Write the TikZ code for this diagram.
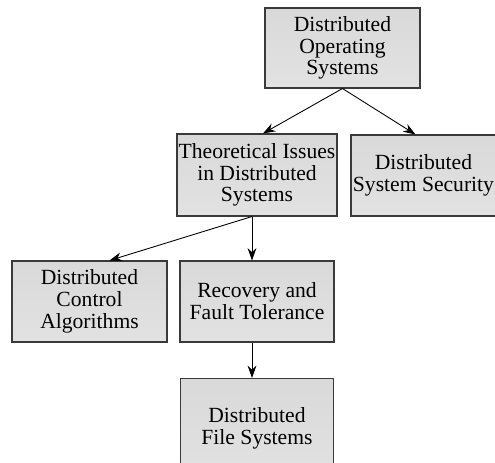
\documentclass[tikz,border=0pt]{standalone}
\usepackage{fontspec}
\setmainfont{Liberation Serif}
\usepackage{tikz}
\usetikzlibrary{arrows.meta,calc}
\definecolor{edge}{HTML}{3A3A3A}
\definecolor{shadetop}{HTML}{D9D9D9}
\definecolor{shademid}{HTML}{FAFAFA}
\definecolor{shadebot}{HTML}{E2E2E2}

\begin{document}
\begin{tikzpicture}[x=0.02cm, y=-0.02cm,
    topic/.style={draw=edge, line width=0.6pt, top color=shadetop,
      middle color=shademid, bottom color=shadebot, align=center,
      inner sep=0pt, font=\fontsize{12.3}{12.4}\selectfont},
    link/.style={-{Stealth[length=7pt,width=5pt]}, line width=0.5pt, black}]
  \useasboundingbox (0,0) rectangle (495,463);
  \clip (0,0) rectangle (495,463);
  \foreach \nm/\cx/\cy/\ww/\hh/\txt in {
      dos/342.5/48/3.1/1.6/{Distributed\\Operating\\Systems},
      theo/257/175/3.2/1.64/{Theoretical Issues\\in Distributed\\Systems},
      sec/423.5/175.5/2.9/1.62/{Distributed\\System Security},
      ctrl/89.5/301.5/3.1/1.62/{Distributed\\Control\\Algorithms},
      rec/257/301.5/3.08/1.62/{Recovery and\\Fault Tolerance},
      fs/257/428/3.06/1.98/{Distributed\\File Systems}}{
    \node[topic, minimum width=\ww cm, minimum height=\hh cm] (\nm) at (\cx,\cy) {\txt};
  }
  \draw[link] (dos.south) -- ($(theo.north)+(6,0)$);
  \draw[link] (dos.south) -- ($(sec.north)+(-8,0)$);
  \draw[link] ($(theo.south)+(-5,0)$) -- ($(ctrl.north)+(20,0)$);
  \draw[link] ($(theo.south)+(-5,0)$) -- ($(rec.north)+(-5,0)$);
  \draw[link] ($(rec.south)+(-5,0)$) -- ($(fs.north)+(-5,0)$);
\end{tikzpicture}
\end{document}
